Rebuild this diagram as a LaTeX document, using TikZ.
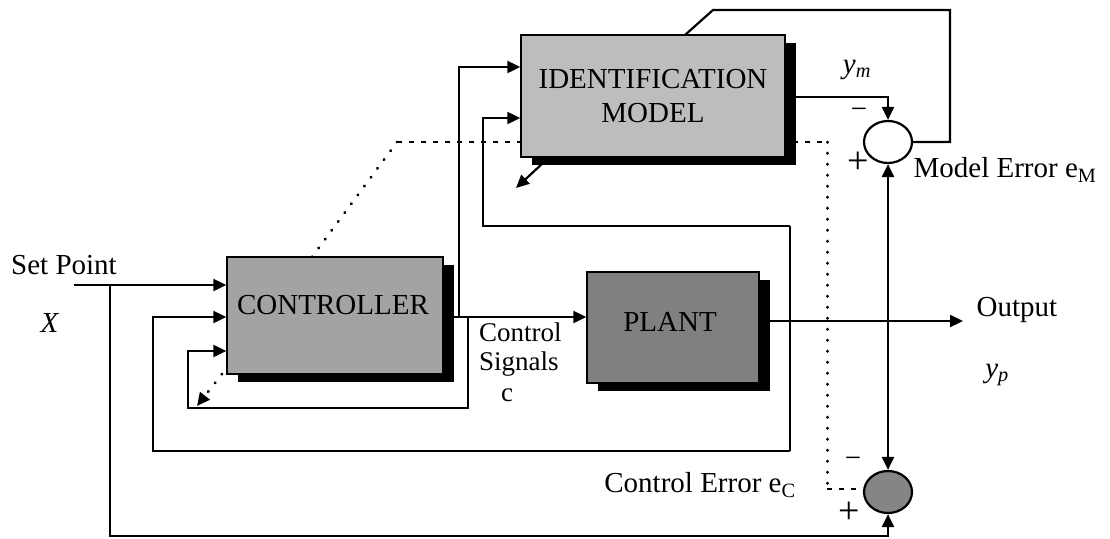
\documentclass[tikz,border=0pt]{standalone}
\usepackage{fontspec}
\setmainfont{Liberation Serif}
\usetikzlibrary{arrows.meta,shadows,shapes.geometric,backgrounds}
\definecolor{idfill}{gray}{0.74}
\definecolor{ctfill}{gray}{0.64}
\definecolor{plfill}{gray}{0.50}
\definecolor{scfill}{gray}{0.52}
\begin{document}
\begin{tikzpicture}[x=1pt,y=-1pt,line width=2.2pt,
  lbl/.style={font=\fontsize{29}{34}\selectfont,inner sep=0pt},
  sgn/.style={font=\fontsize{38}{40}\selectfont,inner sep=0pt},
  blk/.style={draw=black,line width=1.4pt,inner sep=0pt,align=center,
    font=\fontsize{29}{34}\selectfont,
    drop shadow={shadow xshift=11pt,shadow yshift=-8pt,fill=black,opacity=1}},
  sumnode/.style={ellipse,draw=black,line width=2.2pt,inner sep=0pt,
    minimum width=48pt,minimum height=42pt},
  arr/.style={-{Triangle[length=13pt,width=12pt]}},
  dotline/.style={line width=3pt,line cap=round,dash pattern=on 0.4pt off 10.6pt},
  dashline/.style={line width=2.6pt,dash pattern=on 5pt off 7pt}
]
\useasboundingbox (0,0) rectangle (1110,538);

% blocks
\node[blk,fill=idfill,minimum width=264pt,minimum height=122pt] (id) at (653,96) {IDENTIFICATION\\MODEL};
\node[blk,fill=ctfill,minimum width=216pt,minimum height=117pt] (ctrl) at (335,315.5) {};
\node[lbl] (ctrlT) at (333,305) {CONTROLLER};
\node[blk,fill=plfill,minimum width=172pt,minimum height=111pt] (plant) at (673,327.5) {};
\node[lbl] (plantT) at (670,322) {PLANT};
\node[sumnode,fill=white] (sumM) at (888,142) {};
\node[sumnode,fill=scfill] (sumC) at (888,492) {};

% coordinates
\coordinate (spIn) at (74,285);
\coordinate (spTap) at (110,285);
\coordinate (bot) at (110,536);
\coordinate (outEnd) at (963,321);
\coordinate (tapY) at (888,321);
\coordinate (fbTop) at (790,226);
\coordinate (fbBot) at (790,451);
\coordinate (idIn2) at (483,118);
\coordinate (ctIn2) at (153,317);
\coordinate (cOut) at (459,317);
\coordinate (idIn1) at (459,67);
\coordinate (lpA) at (468,317);
\coordinate (lpB) at (188,408);
\coordinate (ctIn3) at (188,351);
\coordinate (ymC) at (888,97);
\coordinate (meR) at (950,10);
\coordinate (meL) at (713,10);
\coordinate (idTop) at (685,35);
\coordinate (dA) at (312,257);
\coordinate (dB) at (397,142);
\coordinate (dC) at (827,142);
\coordinate (dD) at (827,489);
\coordinate (idA) at (543,163);
\coordinate (idB) at (516,188);
\coordinate (ctA) at (222,374);
\coordinate (ctB) at (197,406);

% dotted path behind boxes
\begin{scope}[on background layer]
\draw[dotline] (dA) -- (dB);
\draw[dashline] (dB) -- (dC);
\draw[dotline] (dC) -- (dD);
\draw[dashline] (dD) -- (sumC.west |- dD);
\end{scope}

% connectors
\draw[arr] (spIn) -- (ctrl.west |- spIn);
\draw[arr] (spTap) -- (bot) -| (sumC.south);
\draw[arr] (plant.east |- outEnd) -- (outEnd);
\draw[arr] (tapY) -- (sumM.south);
\draw[arr] (tapY) -- (sumC.north);
\draw (fbTop) -- (fbBot);
\draw[arr] (fbTop) -| (idIn2) -- (id.west |- idIn2);
\draw[arr] (fbBot) -| (ctIn2) -- (ctrl.west |- ctIn2);
\draw[arr] (ctrl.east |- cOut) -- (plant.west |- cOut);
\draw[arr] (cOut) -- (idIn1) -- (id.west |- idIn1);
\draw[arr] (lpA) |- (lpB) -- (ctIn3) -- (ctrl.west |- ctIn3);
\draw[arr] (id.east |- ymC) -- (ymC) -- (sumM.north);
\draw (sumM.east) -| (meR) -- (meL) -- (idTop);
\draw[arr] (idA) -- (idB);
\draw[dotline,arr] (ctA) -- (ctB);

% labels
\node[lbl] (spL) at (64,265) {Set Point};
\node[lbl] (xL) at (50,323) {\textit{X}};
\node[lbl,anchor=north west,align=left,font=\fontsize{27}{29}\selectfont] (csL) at (478,322)
  {Control\\Signals\\[2pt]\hspace*{22pt}c};
\node[lbl] (outL) at (1017,310) {Output};
\node[lbl] (ypL) at (997,375) {\textit{y\textsubscript{p}}};
\node[lbl] (ymL) at (857,70) {\textit{y\textsubscript{m}}};
\node[lbl] (mMinus) at (859,113) {−};
\node[sgn] (mPlus) at (858,163) {+};
\node[lbl] (cMinus) at (853,462) {−};
\node[sgn] (cPlus) at (849,513) {+};
\node[lbl] (meL2) at (1005,170) {Model Error e\textsubscript{M}};
\node[lbl] (ceL) at (700,485) {Control Error e\textsubscript{C}};
\end{tikzpicture}
\end{document}
